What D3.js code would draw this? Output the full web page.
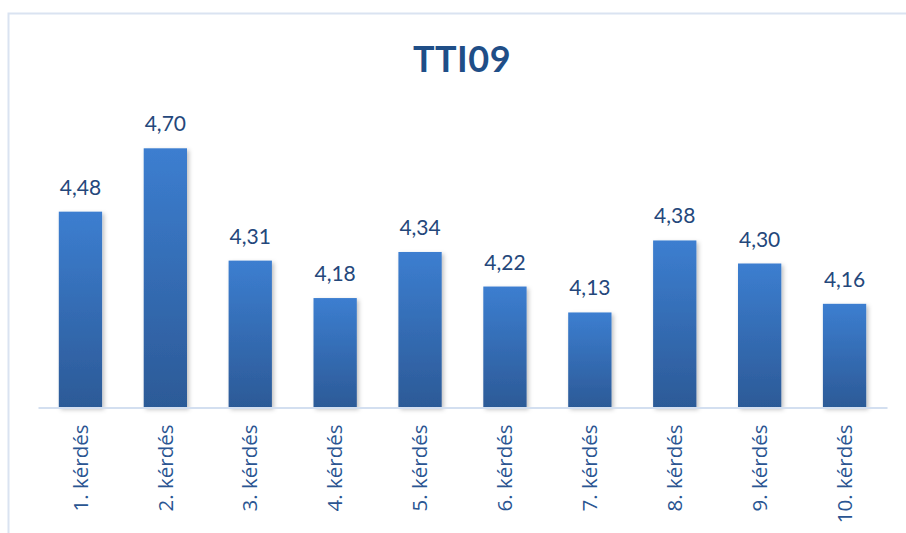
<!DOCTYPE html>
<html>
<head>
<meta charset="utf-8">
<script src="https://cdn.jsdelivr.net/npm/d3@7"></script>
<style>
  body { margin: 0; background: #fff; }
  svg { display: block; font-family: Lato, "Open Sans", sans-serif; }
</style>
</head>
<body>
<div id="chart"></div>
<script>
const categories = ["1. kérdés", "2. kérdés", "3. kérdés", "4. kérdés", "5. kérdés",
                    "6. kérdés", "7. kérdés", "8. kérdés", "9. kérdés", "10. kérdés"];
const values = [4.48, 4.70, 4.31, 4.18, 4.34, 4.22, 4.13, 4.38, 4.30, 4.16];
const title = "TTI09";

const width = 906, height = 533;
const margin = { top: 119.5, right: 19, bottom: 125.5, left: 38 };

const svg = d3.select("#chart").append("svg")
    .attr("width", width)
    .attr("height", height);

const defs = svg.append("defs");
const grad = defs.append("linearGradient")
    .attr("id", "barGrad")
    .attr("x1", 0).attr("y1", 0).attr("x2", 0).attr("y2", 1);
grad.append("stop").attr("offset", "0%").attr("stop-color", "#3c7ed0");
grad.append("stop").attr("offset", "100%").attr("stop-color", "#2c5a97");

const shadow = defs.append("filter")
    .attr("id", "shadow")
    .attr("x", "-20%").attr("y", "-5%").attr("width", "150%").attr("height", "115%");
shadow.append("feDropShadow")
    .attr("dx", 2).attr("dy", 2)
    .attr("stdDeviation", 2)
    .attr("flood-color", "#000")
    .attr("flood-opacity", 0.25);

// chart frame (cut off at right and bottom)
svg.append("rect")
    .attr("x", 8.5).attr("y", 13.5)
    .attr("width", 920).attr("height", 540)
    .attr("fill", "none")
    .attr("stroke", "#dae3f1")
    .attr("stroke-width", 2);

let x = d3.scaleBand()
    .domain(categories)
    .range([margin.left, width - margin.right])
    .paddingInner(0.49)
    .paddingOuter(0.245);

let y = d3.scaleLinear()
    .domain([3.8, 4.8])
    .range([height - margin.bottom, margin.top]);

svg.append("text")
    .attr("x", 462)
    .attr("y", 72)
    .attr("text-anchor", "middle")
    .attr("fill", "#1f4e87")
    .attr("font-weight", "bold")
    .attr("font-size", 36)
    .attr("letter-spacing", 0.5)
    .text(title);

svg.append("g")
    .selectAll("rect")
    .data(values)
    .join("rect")
    .attr("x", (d, i) => x(categories[i]))
    .attr("y", d => y(d))
    .attr("width", x.bandwidth())
    .attr("height", d => y(3.8) - y(d))
    .attr("fill", "url(#barGrad)")
    .attr("filter", "url(#shadow)");

svg.append("g")
    .selectAll("text")
    .data(values)
    .join("text")
    .attr("x", (d, i) => x(categories[i]) + x.bandwidth() / 2)
    .attr("y", d => y(d) - 17)
    .attr("text-anchor", "middle")
    .attr("fill", "#24477b")
    .attr("font-size", 21)
    .text(d => d3.format(".2f")(d).replace(".", ","));

let xAxis = g => g
    .attr("transform", `translate(0,${height - margin.bottom})`)
    .call(d3.axisBottom(x).tickSize(0).tickPadding(0))
    .call(g => g.select(".domain")
        .attr("stroke", "#d3dff0")
        .attr("stroke-width", 2))
    .call(g => g.selectAll(".tick text")
        .attr("transform", "rotate(-90)")
        .attr("text-anchor", "end")
        .attr("dy", "0.35em")
        .attr("x", -17)
        .attr("y", 0)
        .attr("fill", "#2a5592")
        .attr("font-size", 20.5)
        .attr("font-family", "'Open Sans', Lato, sans-serif"));

svg.append("g").call(xAxis);
</script>
</body>
</html>
